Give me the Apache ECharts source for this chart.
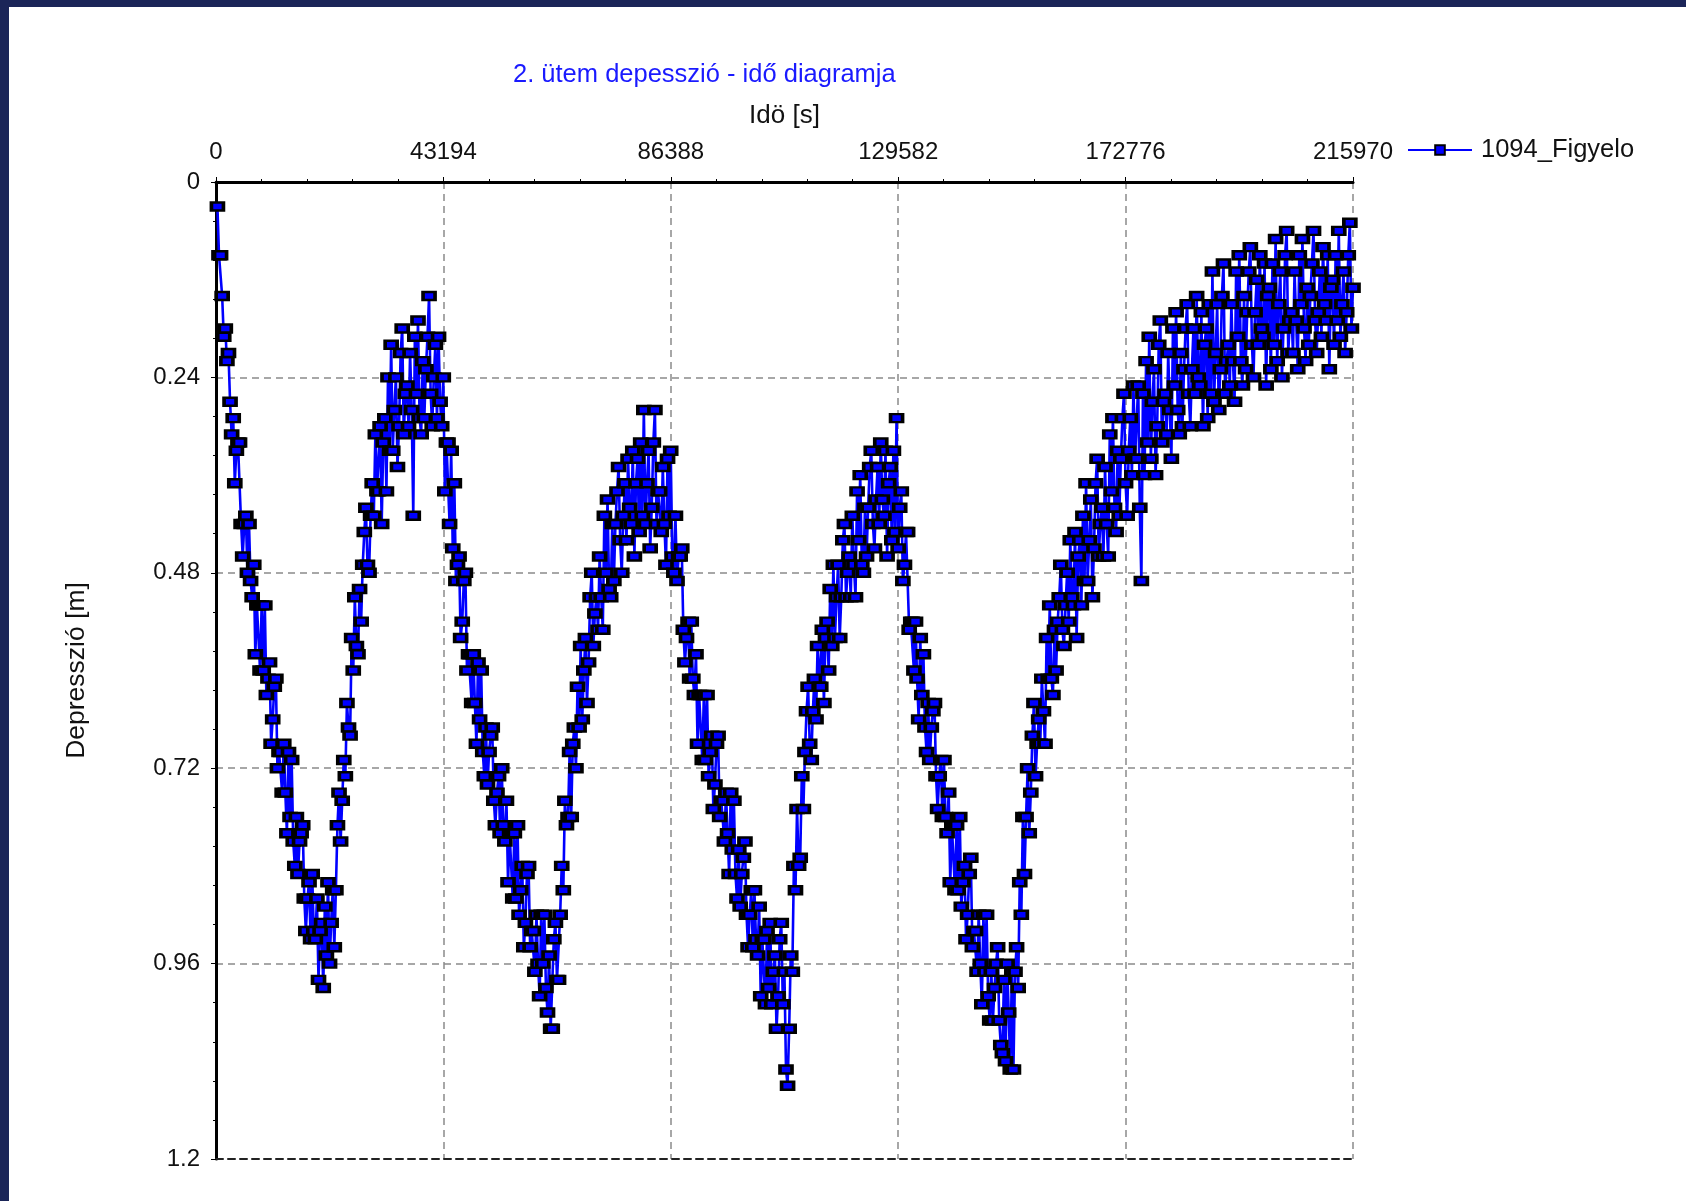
<!DOCTYPE html>
<html>
<head>
<meta charset="utf-8">
<title>2. ütem depesszió - idő diagramja</title>
<script src="https://cdn.jsdelivr.net/npm/echarts@6/dist/echarts.min.js"></script>
<style>
  html, body { margin: 0; padding: 0; background: #ffffff; }
  #chart { width: 1686px; height: 1201px; }
</style>
</head>
<body>
<div id="chart"></div>
<script>
// Observation well 1094_Figyelo, stage 2: drawdown logged at a fixed interval
const seriesName = '1094_Figyelo';
const timeStart = 270;   // s, first logged sample
const timeStep = 300;    // s, logger interval
const timeMax = 215970;  // s, end of the record
const timeTickStep = 43194;
const depthMax = 1.2;
const depthTickStep = 0.24;

// drawdown readings in cm (1 cm resolution), one row = 20 samples
const depressionCm = [
  3, 9, 9, 14, 19, 18, 22, 21, 27, 31, 29, 37, 33, 32, 32, 42, 46, 42, 41, 48,
  42, 49, 51, 47, 58, 52, 52, 60, 52, 60, 52, 63, 61, 59, 69, 66, 62, 61, 72, 70,
  70, 75, 69, 75, 80, 70, 78, 71, 81, 84, 78, 85, 81, 80, 79, 88, 92, 88, 86, 93,
  85, 92, 93, 88, 98, 92, 91, 99, 89, 95, 86, 96, 91, 87, 94, 87, 79, 75, 81, 76,
  71, 73, 64, 67, 68, 56, 60, 51, 57, 58, 50, 54, 47, 43, 40, 47, 48, 41, 37, 41,
  31, 38, 38, 30, 42, 32, 29, 38, 24, 33, 20, 33, 28, 24, 35, 30, 21, 18, 31, 26,
  25, 30, 21, 28, 41, 19, 26, 17, 29, 31, 22, 29, 23, 19, 14, 26, 30, 24, 20, 29,
  19, 27, 30, 24, 38, 32, 32, 42, 33, 45, 37, 49, 47, 46, 56, 54, 49, 48, 60, 58,
  58, 64, 58, 64, 69, 59, 66, 60, 70, 73, 67, 74, 70, 68, 67, 76, 79, 75, 73, 80,
  72, 79, 81, 76, 86, 80, 80, 88, 80, 88, 79, 90, 87, 84, 94, 91, 85, 84, 94, 92,
  92, 97, 90, 96, 100, 90, 96, 90, 99, 102, 95, 104, 104, 93, 91, 98, 98, 90, 84, 87,
  76, 79, 78, 70, 78, 69, 67, 72, 62, 67, 57, 66, 60, 56, 64, 59, 51, 48, 57, 53,
  51, 55, 46, 51, 55, 41, 48, 39, 50, 51, 42, 49, 42, 38, 35, 44, 48, 41, 37, 44,
  34, 40, 42, 33, 46, 37, 34, 43, 32, 41, 28, 42, 37, 33, 45, 40, 32, 28, 42, 38,
  38, 43, 35, 42, 47, 34, 41, 33, 46, 48, 41, 49, 46, 46, 45, 55, 59, 56, 54, 61,
  54, 61, 63, 58, 69, 63, 63, 71, 63, 71, 63, 73, 70, 68, 77, 74, 69, 68, 78, 76,
  76, 81, 75, 80, 85, 75, 82, 76, 85, 88, 82, 89, 85, 83, 81, 90, 94, 90, 87, 94,
  87, 93, 95, 89, 100, 93, 93, 101, 92, 99, 91, 101, 97, 95, 104, 100, 93, 91, 101, 97,
  109, 111, 104, 95, 97, 84, 87, 77, 84, 83, 73, 77, 70, 65, 62, 69, 71, 65, 61, 66,
  57, 62, 62, 55, 64, 56, 54, 60, 50, 57, 47, 56, 51, 47, 56, 51, 44, 42, 51, 48,
  46, 51, 41, 47, 51, 38, 44, 36, 47, 48, 40, 46, 40, 35, 33, 42, 45, 39, 35, 42,
  32, 39, 41, 33, 46, 37, 35, 44, 33, 43, 29, 45, 40, 38, 49, 47, 43, 43, 55, 54,
  54, 60, 54, 61, 66, 56, 63, 58, 67, 70, 64, 71, 67, 65, 64, 73, 77, 73, 71, 78,
  71, 78, 80, 75, 86, 79, 79, 87, 79, 87, 78, 89, 86, 84, 93, 90, 85, 83, 94, 92,
  92, 97, 90, 96, 101, 90, 97, 90, 100, 103, 97, 103, 99, 96, 94, 103, 106, 107, 98, 108,
  96, 102, 109, 97, 109, 97, 94, 99, 86, 90, 78, 85, 78, 72, 80, 75, 68, 64, 73, 69,
  66, 69, 61, 65, 69, 56, 61, 52, 61, 63, 55, 60, 54, 51, 47, 55, 57, 52, 48, 54,
  44, 51, 52, 43, 56, 46, 44, 52, 41, 49, 37, 49, 44, 39, 51, 45, 37, 34, 46, 42,
  40, 46, 35, 42, 46, 31, 38, 29, 40, 43, 33, 41, 34, 29, 26, 37, 41, 33, 29, 36,
  25, 34, 34, 25, 40, 49, 26, 36, 22, 32, 19, 34, 27, 23, 36, 30, 20, 17, 32, 27,
  26, 31, 21, 28, 34, 18, 25, 16, 28, 31, 21, 30, 23, 18, 15, 26, 30, 23, 18, 26,
  14, 24, 25, 16, 30, 20, 18, 29, 15, 26, 11, 27, 21, 15, 28, 23, 14, 10, 26, 22,
  20, 25, 15, 22, 27, 11, 19, 9, 22, 25, 14, 23, 16, 11, 8, 20, 24, 16, 12, 20,
  9, 18, 19, 10, 25, 14, 13, 23, 10, 20, 7, 22, 15, 11, 24, 18, 9, 6, 21, 17,
  16, 21, 11, 17, 23, 9, 15, 7, 18, 22, 13, 20, 14, 10, 6, 17, 21, 16, 11, 19,
  8, 15, 17, 9, 23, 13, 12, 20, 9, 17, 6, 19, 15, 11, 21, 16, 9, 5, 18, 13
];

const points = depressionCm.map((cm, i) => [timeStart + i * timeStep, cm / 100]);

const FONT = "'Liberation Sans', Arial, sans-serif";
const gridDash = { color: '#8a8a8a', width: 1.5, type: [7, 5] };
const plainNumber = (v) => String(Math.round(v * 1000) / 1000);

const chart = echarts.init(document.getElementById('chart'), null, { renderer: 'canvas' });
chart.setOption({
  animation: false,
  backgroundColor: '#ffffff',
  textStyle: { fontFamily: FONT },
  graphic: [
    { type: 'rect', shape: { x: 0, y: 0, width: 1686, height: 7 }, style: { fill: '#1b2558' }, z: 100 },
    { type: 'rect', shape: { x: 0, y: 0, width: 9, height: 1201 }, style: { fill: '#1b2558' }, z: 100 }
  ],
  title: {
    text: '2. ütem depesszió - idő diagramja',
    left: 508,
    top: 57,
    textStyle: { fontFamily: FONT, fontSize: 25.5, fontWeight: 'normal', color: '#1a1aff' }
  },
  legend: {
    data: [seriesName],
    left: 1402,
    top: 132,
    itemWidth: 64,
    itemHeight: 12,
    textStyle: { fontFamily: FONT, fontSize: 25.5, color: '#111', padding: [0, 0, 0, 4] }
  },
  grid: { left: 216, top: 182, right: 333, bottom: 42 },
  xAxis: [
    {
      type: 'value',
      position: 'top',
      min: 0,
      max: timeMax,
      interval: timeTickStep,
      name: 'Idö [s]',
      nameLocation: 'middle',
      nameGap: 53,
      nameTextStyle: { fontFamily: FONT, fontSize: 26, color: '#111' },
      axisLine: { show: true, lineStyle: { color: '#000', width: 3 } },
      axisTick: { show: true, length: 5, lineStyle: { color: '#000', width: 1 } },
      minorTick: { show: true, splitNumber: 5, length: 3, lineStyle: { color: '#000' } },
      axisLabel: { fontFamily: FONT, fontSize: 24, color: '#111', margin: 18, formatter: plainNumber },
      splitLine: { show: true, lineStyle: gridDash }
    },
    {
      type: 'value',
      position: 'bottom',
      min: 0,
      max: timeMax,
      interval: timeTickStep,
      axisLine: { show: true, lineStyle: { color: '#222', width: 2, type: [7, 5] } },
      axisTick: { show: false },
      axisLabel: { show: false },
      splitLine: { show: false }
    }
  ],
  yAxis: {
    type: 'value',
    inverse: true,
    min: 0,
    max: depthMax,
    interval: depthTickStep,
    name: 'Depresszió [m]',
    nameLocation: 'middle',
    nameGap: 126,
    nameTextStyle: { fontFamily: FONT, fontSize: 26.5, color: '#111' },
    axisLine: { show: true, lineStyle: { color: '#000', width: 3 } },
    axisTick: { show: true, length: 5, lineStyle: { color: '#000', width: 1 } },
    minorTick: { show: true, splitNumber: 5, length: 3, lineStyle: { color: '#000' } },
    axisLabel: { fontFamily: FONT, fontSize: 24, color: '#111', margin: 16, formatter: plainNumber },
    splitLine: { show: true, lineStyle: gridDash }
  },
  series: [
    {
      name: seriesName,
      type: 'line',
      xAxisIndex: 0,
      data: points,
      symbol: 'rect',
      symbolSize: [12, 8],
      showAllSymbol: true,
      itemStyle: { color: '#0000ff', borderColor: '#000', borderWidth: 3 },
      lineStyle: { color: '#0000ff', width: 2.6 }
    }
  ]
});
</script>
</body>
</html>
